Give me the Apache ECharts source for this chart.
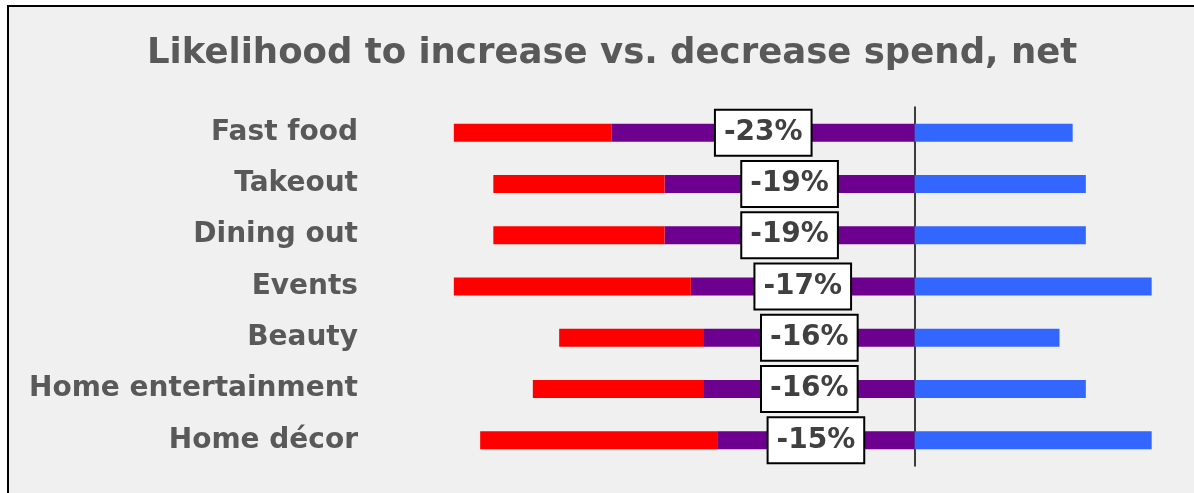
<!DOCTYPE html>
<html>
<head>
<meta charset="utf-8">
<script src="https://cdn.jsdelivr.net/npm/echarts@6/dist/echarts.min.js"></script>
<style>
  html, body { margin: 0; padding: 0; background: #ffffff; }
  #main { width: 1194px; height: 493px; }
</style>
</head>
<body>
<div id="main"></div>
<script>
// 类别（从上到下）
var categories = ['Fast food', 'Takeout', 'Dining out', 'Events', 'Beauty', 'Home entertainment', 'Home décor'];
// 增加花费的比例 (%)
var increase = [12, 13, 13, 18, 11, 13, 18];
// 净值 (%)
var net = [-23, -19, -19, -17, -16, -16, -15];
// 左侧红色部分 = 与增加部分等长
var offset = [-12, -13, -13, -18, -11, -13, -18];

var font = 'DejaVu Sans';
var myChart = echarts.init(document.getElementById('main'));

myChart.setOption({
  animation: false,
  backgroundColor: '#ffffff',
  graphic: [{
    type: 'rect',
    z: -10,
    shape: { x: 8, y: 6, width: 1200, height: 500 },
    style: { fill: '#f0f0f0', stroke: '#000000', lineWidth: 2 }
  }],
  title: {
    text: 'Likelihood to increase vs. decrease spend, net',
    left: 142,
    top: 31,
    textStyle: {
      fontFamily: font,
      fontWeight: 'bold',
      fontSize: 35.5,
      color: '#595959'
    }
  },
  grid: {
    left: 388,
    right: 16,
    top: 107,
    bottom: 27,
    containLabel: false
  },
  xAxis: {
    type: 'value',
    min: -40,
    max: 20,
    show: false
  },
  yAxis: {
    type: 'category',
    inverse: true,
    data: categories,
    axisTick: { show: false },
    axisLine: {
      show: true,
      onZero: true,
      lineStyle: { color: '#000000', width: 1.5 }
    },
    axisLabel: {
      margin: 30,
      fontFamily: font,
      fontWeight: 'bold',
      fontSize: 28,
      color: '#595959'
    }
  },
  series: [{
      name: 'net',
      type: 'bar',
      stack: 'a',
      barWidth: 18,
      itemStyle: { color: '#6d008f' },
      label: {
        show: true,
        position: 'inside',
        formatter: function (p) { return p.value + '%'; },
        fontFamily: font,
        fontWeight: 'bold',
        fontSize: 28,
        color: '#404040',
        backgroundColor: '#ffffff',
        borderColor: '#000000',
        borderWidth: 2,
        padding: [8, 8, 8, 8]
      },
      data: net
    }, {
      name: 'offset',
      type: 'bar',
      stack: 'a',
      itemStyle: { color: '#ff0000' },
      data: offset
    }, {
      name: 'increase',
      type: 'bar',
      stack: 'a',
      itemStyle: { color: '#3366ff' },
      data: increase
    }
  ]
});
</script>
</body>
</html>
